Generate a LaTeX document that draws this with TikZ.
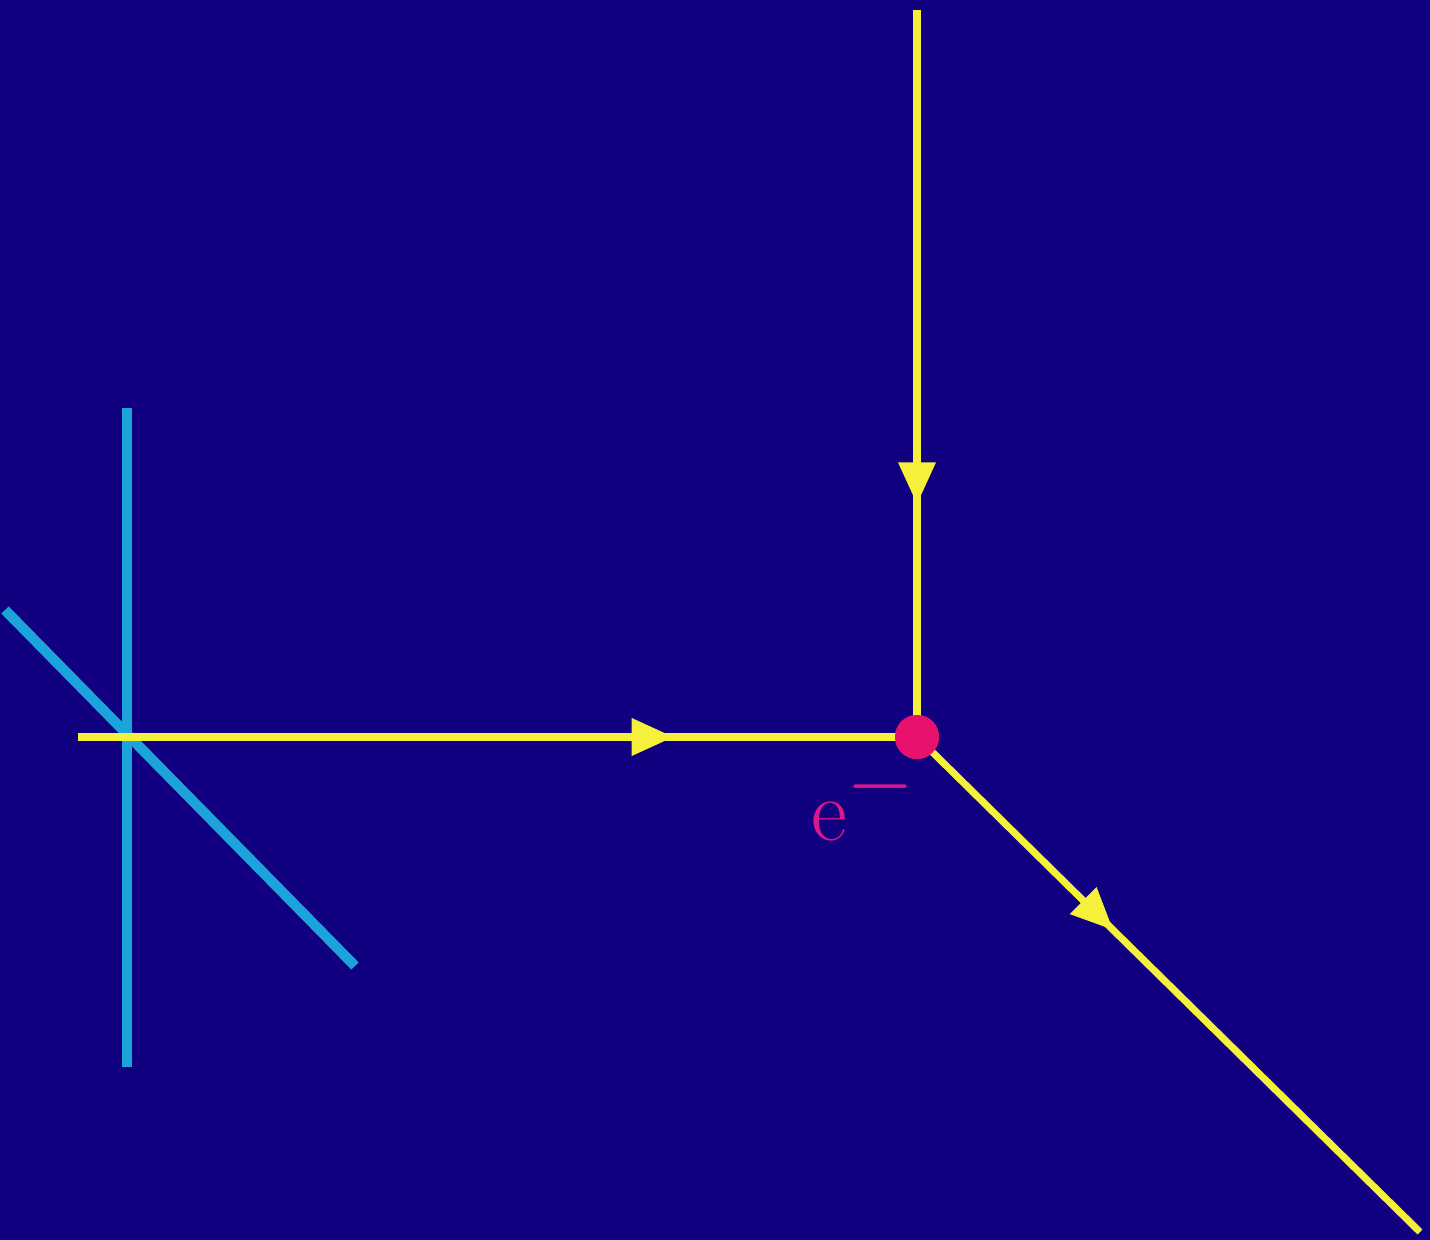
\documentclass[tikz,border=0pt]{standalone}
\usepackage{tikz}
\usetikzlibrary{arrows.meta,decorations.markings,backgrounds}
\definecolor{bgblue}{HTML}{11007F}
\definecolor{elyellow}{HTML}{F5F03A}
\definecolor{wirecyan}{HTML}{1CA3DA}
\definecolor{dotpink}{HTML}{E8126E}
\definecolor{lblpink}{HTML}{D8188C}

\tikzset{
  yline/.style={elyellow, line width=2pt},
  fermion/.style={yline, postaction={decorate},
    decoration={markings, mark=at position #1 with
      {\arrow{Triangle[length=0.42cm,width=0.36cm]}}}},
  cline/.style={wirecyan, line width=2.9pt},
  vertex/.style={circle, fill=dotpink, inner sep=0pt, minimum size=0.44cm}
}

\begin{document}
\begin{tikzpicture}[x=0.01cm, y=-0.01cm]
  \useasboundingbox (0,0) rectangle (1430,1240);
  \fill[bgblue] (0,0) rectangle (1430,1240);

  % --- the wire and its crossing line
  \coordinate (wtop) at (127,408);
  \coordinate (wbot) at (127,1067);
  \coordinate (stop) at (5,610);
  \coordinate (sbot) at (355,966);
  \draw[cline] (wtop) -- (wbot);
  \draw[cline] (stop) -- (sbot);

  % --- the three electron lines
  \coordinate (top) at (917,10);
  \coordinate (left) at (78,737);
  \coordinate (out) at (1420,1232);
  \node[vertex] (vtx) at (917,737) {};
  \draw[fermion=0.68] (top) -- (vtx.center);
  \draw[fermion=0.71] (left) -- (vtx.center);
  \draw[fermion=0.39] (vtx.center) -- (out);
  \node[vertex] at (vtx) {};

  \node[lblpink, font=\fontsize{36}{40}\selectfont] (elab) at (864,799) {$\mathrm{e}^{-}$};
\end{tikzpicture}
\end{document}
